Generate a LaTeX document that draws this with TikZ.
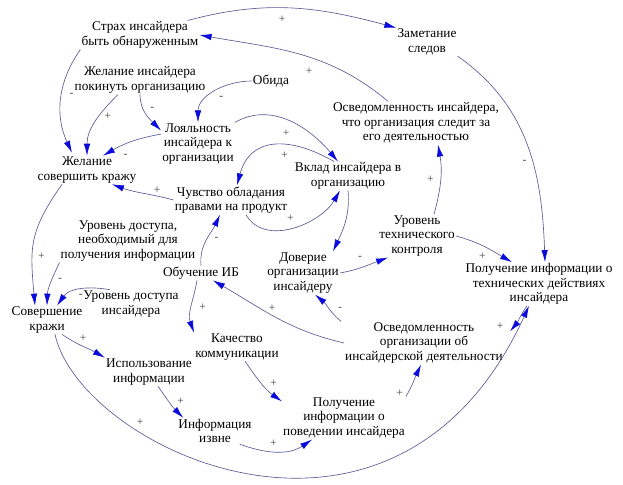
\documentclass[tikz,border=0pt]{standalone}
\usepackage{fontspec}
\setmainfont{Liberation Serif}
\usetikzlibrary{arrows.meta}
\definecolor{linkcol}{RGB}{90,90,150}
\definecolor{tipcol}{RGB}{10,10,220}

\begin{document}
\begin{tikzpicture}[x=1pt,y=1pt,
  var/.style={align=center,inner sep=1pt,font=\rmfamily\fontsize{13.3}{14.6}\selectfont},
  link/.style={draw=linkcol,line width=0.65pt,-{Latex[length=12pt,width=6.5pt,color=tipcol]}},
  sgn/.style={font=\rmfamily\fontsize{11.5}{11.5}\selectfont,text=black!75,inner sep=0pt}]
\useasboundingbox (0,0) rectangle (623,484);
% variables
\node[var] (strah) at (140,449) {Страх инсайдера\\быть обнаруженным};
\node[var] (zamet) at (427,442) {Заметание\\следов};
\node[var] (zhelpok) at (140,404) {Желание инсайдера\\покинуть организацию};
\node[var] (obida) at (271,403) {Обида};
\node[var] (osvins) at (416,361) {Осведомленность инсайдера,\\что организация следит за\\его деятельностью};
\node[var] (loyal) at (198,340) {Лояльность\\инсайдера к\\организации};
\node[var] (zhelkr) at (87,314) {Желание\\совершить кражу};
\node[var] (vklad) at (348,308) {Вклад инсайдера в\\организацию};
\node[var] (chuv) at (231,284) {Чувство обладания\\правами на продукт};
\node[var] (dostneob) at (128,243) {Уровень доступа,\\необходимый для\\получения информации};
\node[var] (obuch) at (201,211) {Обучение ИБ};
\node[var] (dover) at (303,211) {Доверие\\организации\\инсайдеру};
\node[var] (urtech) at (417,248) {Уровень\\технического\\контроля};
\node[var] (poltech) at (539,200) {Получение информации о\\технических действиях\\инсайдера};
\node[var] (sovkr) at (47,164) {Совершение\\кражи};
\node[var] (dostins) at (131,180) {Уровень доступа\\инсайдера};
\node[var] (kach) at (237,137) {Качество\\коммуникации};
\node[var] (osvorg) at (424,141) {Осведомленность\\организации об\\инсайдерской деятельности};
\node[var] (ispol) at (149,112) {Использование\\информации};
\node[var] (infizv) at (215,53) {Информация\\извне};
\node[var] (polpov) at (344,66) {Получение\\информации о\\поведении инсайдера};

% links
\draw[link] ([xshift=-12pt]strah.north east) to[out=15,in=165] node[sgn,pos=.45,yshift=-11pt] {+} (zamet.north west);
\draw[link] ([xshift=-28pt]osvins.north) to[out=140,in=-10] node[sgn,pos=.45,yshift=-14pt] {+} (strah.east);
\draw[link] (strah.south west) to[out=235,in=115] node[sgn,pos=.45,xshift=10pt] {-} ([xshift=-15pt,yshift=3pt]zhelkr.north);
\draw[link] ([xshift=-22pt]zhelpok.south) to[out=225,in=90] node[sgn,pos=.4,xshift=9pt] {+} (zhelkr.north);
\draw[link] (zhelpok.south) to[out=270,in=135] node[sgn,pos=.35,xshift=9pt] {-} (loyal.160);
\draw[link] (obida.west) to[out=180,in=90] node[sgn,pos=.4,yshift=-10pt] {-} (loyal.north);
\draw[link] (loyal.165) to[out=190,in=30] node[sgn,pos=.6,yshift=-12pt] {-} ([xshift=16pt]zhelkr.north);
\draw[link] (loyal.north east) to[out=30,in=130] node[sgn,pos=.5,xshift=-4pt,yshift=-12pt] {+} ([xshift=-10pt]vklad.north);
\draw[link] ([xshift=-14pt]vklad.north) to[out=150,in=75,looseness=1.3] node[sgn,pos=.4,yshift=-10pt] {+} ([xshift=6pt]chuv.north);
\draw[link] ([xshift=15pt]chuv.south) to[out=-60,in=-120] node[sgn,pos=.45,xshift=3pt,yshift=11pt] {+} ([xshift=-8pt]vklad.south);
\draw[link] (chuv.west) to[out=165,in=-20] node[sgn,pos=.25,yshift=6pt] {+} ([xshift=25pt]zhelkr.south);
\draw[link] (obuch.north) to[out=95,in=245] node[sgn,pos=.5,xshift=10pt] {-} ([xshift=-11pt]chuv.south);
\draw[link] ([xshift=-4pt]obuch.south) to[out=260,in=110] node[sgn,pos=.5,xshift=11pt] {+} (kach.north west);
\draw[link] (osvorg.west) to[out=167,in=-30] node[sgn,pos=.5,xshift=-4pt,yshift=9pt] {+} ([xshift=12pt]obuch.south);
\draw[link] ([xshift=-3pt]osvorg.north west) to[out=140,in=-40] node[sgn,pos=.45,xshift=11pt] {-} ([xshift=12pt]dover.south);
\draw[link] (vklad.south) to[out=-85,in=65] ([xshift=30pt]dover.north);
\draw[link] (dover.east) to[out=10,in=200] node[sgn,pos=.4,yshift=10pt] {-} ([xshift=10pt]urtech.south west);
\draw[link] ([xshift=17pt]urtech.north) to[out=75,in=-80] node[sgn,pos=.5,xshift=-10pt] {+} ([xshift=22pt]osvins.south);
\draw[link] (urtech.east) to[out=-15,in=150] node[sgn,pos=.45,yshift=-11pt] {+} ([xshift=-27pt]poltech.north);
\draw[link] (zamet.south east) to[out=-35,in=92] node[sgn,pos=.58,xshift=-8pt] {-} ([xshift=6pt]poltech.north);
\draw[link] ([xshift=-12pt]poltech.south) to[out=235,in=50] node[sgn,pos=.9,xshift=-12pt,yshift=2pt] {+} ([shift={(6pt,-10pt)}]osvorg.north east);
\draw[link] ([xshift=8pt]sovkr.south) .. controls (80,35) and (395,-115) .. node[sgn,pos=.3,xshift=-3pt,yshift=12pt] {+} ([xshift=-10pt]poltech.south);
\draw[link] ([xshift=15pt]sovkr.south) to[out=-35,in=150] node[sgn,pos=.5,yshift=8pt] {+} (ispol.north west);
\draw[link] ([xshift=9pt]ispol.south) to[out=-55,in=135] node[sgn,pos=.45,xshift=12pt] {+} ([xshift=6pt]infizv.north west);
\draw[link] ([xshift=-13pt]infizv.south east) to[out=-20,in=214] node[sgn,pos=.45,yshift=8pt] {+} ([xshift=30pt]polpov.south west);
\draw[link] ([xshift=8pt]kach.south) to[out=-55,in=145] node[sgn,pos=.5,xshift=12pt] {+} (polpov.165);
\draw[link] (polpov.north east) to[out=60,in=245] node[sgn,pos=.1,xshift=-8pt] {+} ([xshift=-3pt]osvorg.south);
\draw[link] ([xshift=-25pt]zhelkr.south) to[out=235,in=95,looseness=1.2] node[sgn,pos=.64,xshift=9pt] {+} ([xshift=-12pt]sovkr.north);
\draw[link] (dostneob.south west) to[out=245,in=88] node[sgn,pos=.4,xshift=8pt] {-} (sovkr.north);
\draw[link] ([xshift=-21pt]dostins.north) to[out=170,in=55] node[sgn,pos=.4,xshift=-5pt,yshift=-7pt] {-} ([xshift=10pt]sovkr.north);
\end{tikzpicture}
\end{document}
